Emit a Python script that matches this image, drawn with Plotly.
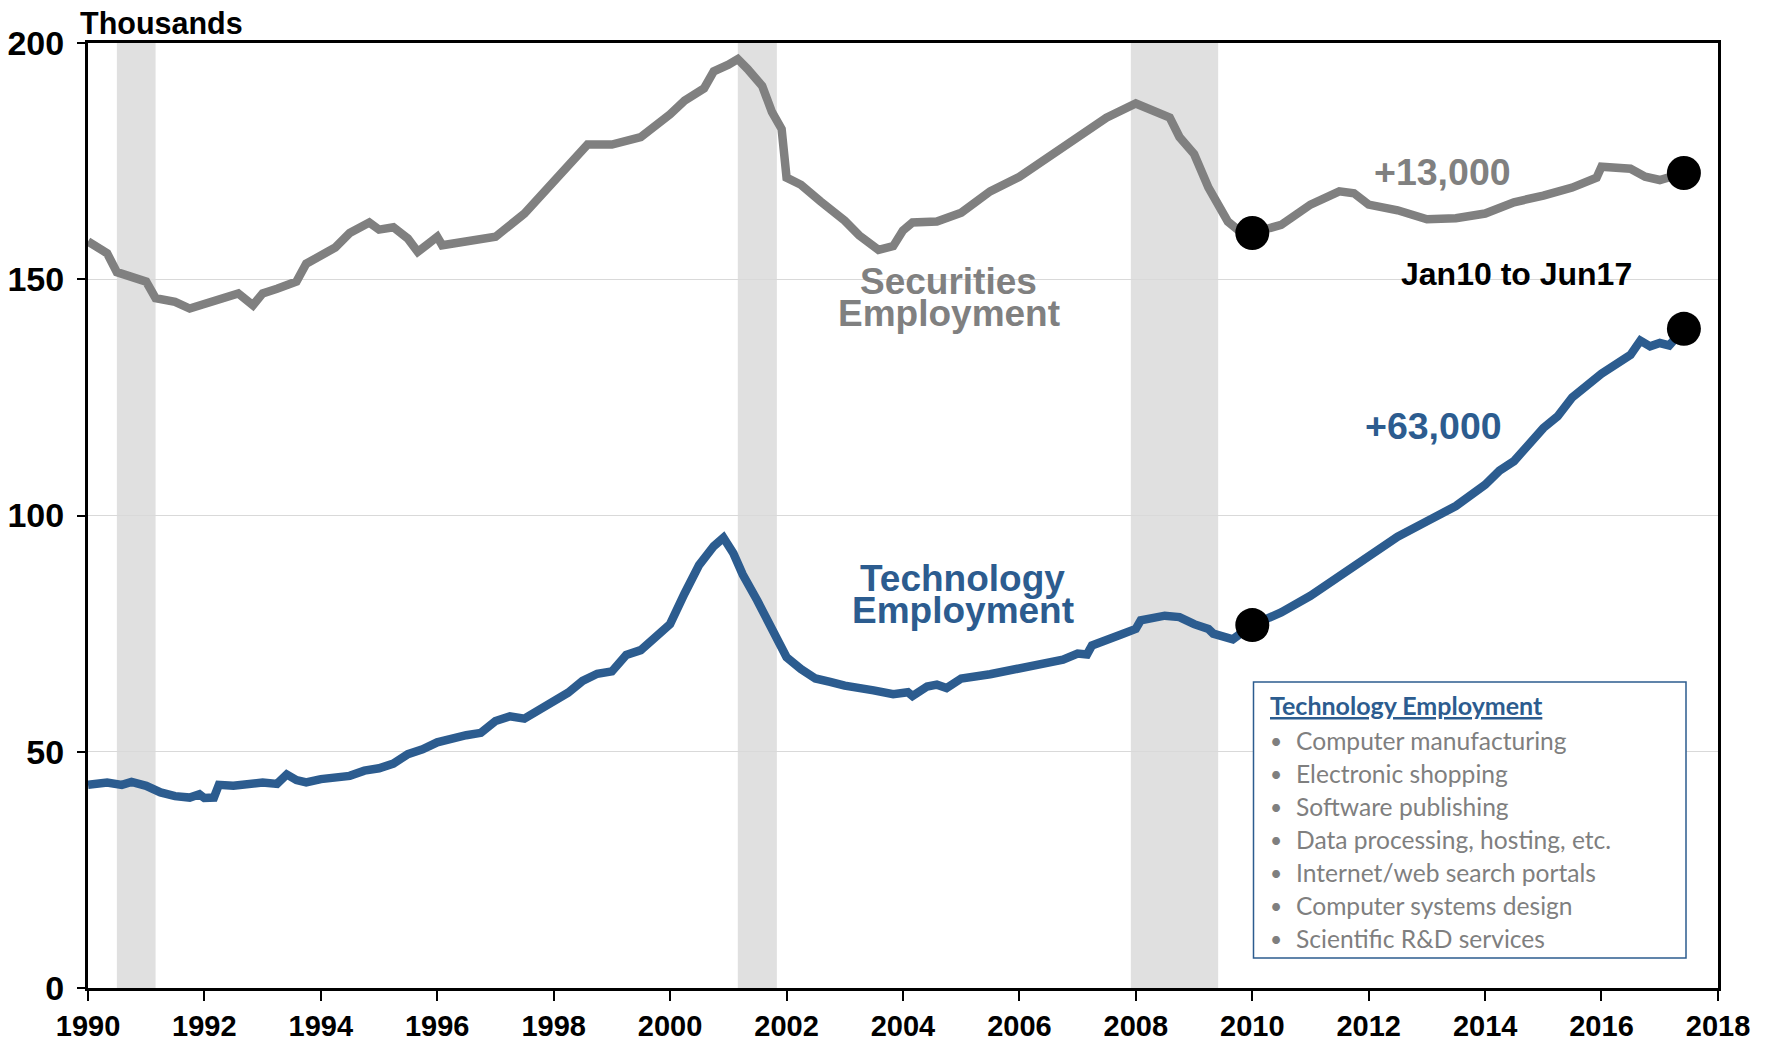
import plotly.graph_objects as go

# ---------------- data (thousands) ----------------
sec_dates = ["1990-01", "1990-03", "1990-05", "1990-07", "1990-10", "1991-01", "1991-03", "1991-07",
             "1991-10", "1992-01", "1992-04", "1992-08", "1992-11", "1993-01", "1993-04", "1993-08",
             "1993-10", "1994-01", "1994-04", "1994-07", "1994-11", "1995-01", "1995-04", "1995-07",
             "1995-09", "1995-11", "1996-01", "1996-02", "1996-07", "1997-01", "1997-07", "1998-01",
             "1998-04", "1998-08", "1999-01", "1999-07", "2000-01", "2000-04", "2000-08", "2000-10",
             "2001-01", "2001-03", "2001-05", "2001-08", "2001-10", "2001-12", "2002-01", "2002-04",
             "2002-08", "2003-01", "2003-04", "2003-08", "2003-11", "2004-01", "2004-03", "2004-08",
             "2005-01", "2005-07", "2006-01", "2006-07", "2007-01", "2007-07", "2008-01", "2008-04",
             "2008-08", "2008-10", "2009-01", "2009-04", "2009-08", "2009-10", "2010-01", "2010-07",
             "2011-01", "2011-07", "2011-10", "2012-01", "2012-07", "2013-01", "2013-07", "2014-01",
             "2014-07", "2015-01", "2015-07", "2015-12", "2016-01", "2016-07", "2016-10", "2017-01",
             "2017-06"]
sec_values = [158.0, 156.7, 155.5, 151.5, 150.5, 149.5, 146.0, 145.2,
              143.8, 144.8, 145.7, 147.0, 144.5, 147.0, 148.0, 149.5,
              153.3, 154.8, 156.7, 159.8, 162.0, 160.5, 161.0, 158.6,
              155.8, 157.4, 159.0, 157.2, 158.1, 159.0, 163.9, 170.6,
              173.7, 178.5, 178.5, 180.1, 184.9, 187.8, 190.4, 194.0,
              195.4, 196.6, 194.5, 190.9, 185.4, 181.8, 171.5, 170.0,
              166.5, 162.4, 159.3, 156.2, 157.0, 160.3, 162.0, 162.2,
              164.1, 168.6, 171.7, 175.8, 179.6, 184.2, 187.2, 185.9,
              184.2, 180.1, 176.5, 169.4, 162.2, 160.5, 159.8, 161.5,
              165.8, 168.6, 168.2, 165.8, 164.6, 162.7, 162.9, 163.9,
              166.3, 167.7, 169.4, 171.5, 173.8, 173.4, 171.7, 171.0,
              172.5]

tech_dates = ["1990-01", "1990-05", "1990-08", "1990-10", "1991-01", "1991-04", "1991-07", "1991-10",
              "1991-12", "1992-01", "1992-03", "1992-04", "1992-07", "1992-10", "1993-01", "1993-04",
              "1993-06", "1993-08", "1993-10", "1994-01", "1994-07", "1994-10", "1995-01", "1995-04",
              "1995-07", "1995-10", "1996-01", "1996-07", "1996-10", "1997-01", "1997-04", "1997-07",
              "1997-10", "1998-01", "1998-04", "1998-07", "1998-10", "1999-01", "1999-04", "1999-07",
              "1999-10", "2000-01", "2000-04", "2000-07", "2000-10", "2000-12", "2001-02", "2001-04",
              "2001-07", "2001-10", "2002-01", "2002-04", "2002-07", "2002-10", "2003-01", "2003-07",
              "2003-11", "2004-02", "2004-03", "2004-06", "2004-08", "2004-10", "2005-01", "2005-07",
              "2006-01", "2006-07", "2006-10", "2007-01", "2007-03", "2007-04", "2007-07", "2007-10",
              "2008-01", "2008-02", "2008-07", "2008-10", "2009-01", "2009-04", "2009-05", "2009-09",
              "2010-01", "2010-07", "2011-01", "2011-07", "2012-01", "2012-07", "2013-01", "2013-07",
              "2014-01", "2014-04", "2014-07", "2015-01", "2015-04", "2015-07", "2016-01", "2016-07",
              "2016-09", "2016-11", "2017-01", "2017-03", "2017-06"]
tech_values = [43.0, 43.5, 43.0, 43.6, 42.8, 41.4, 40.6, 40.3,
               41.0, 40.2, 40.3, 43.0, 42.8, 43.2, 43.5, 43.2,
               45.2, 44.0, 43.5, 44.2, 44.9, 46.0, 46.5, 47.5,
               49.5, 50.5, 52.0, 53.5, 54.0, 56.5, 57.5, 57.0,
               59.0, 60.5, 62.5, 65.0, 66.5, 67.0, 70.5, 71.5,
               74.0, 77.0, 83.5, 89.5, 93.5, 95.3, 92.0, 87.5,
               82.0, 75.5, 70.0, 67.5, 65.5, 64.8, 64.0, 63.0,
               62.2, 62.6, 61.8, 63.8, 64.2, 63.5, 65.5, 66.4,
               67.5, 68.5, 69.5, 70.8, 70.6, 72.5, 73.5, 74.8,
               76.0, 77.8, 78.8, 78.5, 77.0, 76.0, 75.0, 73.8,
               76.8, 79.5, 83.0, 87.0, 91.5, 95.5, 98.8, 102.0,
               106.5, 109.5, 111.5, 118.5, 121.0, 125.0, 130.0, 134.0,
               137.0, 135.8, 136.5, 136.0, 139.5]

dot_dates = ["2010-01", "2017-06"]

recessions = [("1990-07", "1991-03"), ("2001-03", "2001-11"), ("2007-12", "2009-06")]

x_tick_years = list(range(1990, 2019, 2))
y_tick_vals = [0, 50, 100, 150, 200]

legend_title = "Technology Employment"
legend_items = ["Computer manufacturing", "Electronic shopping", "Software publishing",
                "Data processing, hosting, etc.", "Internet/web search portals",
                "Computer systems design", "Scientific R&D services"]

# ---------------- styling ----------------
GRAY = "#808080"
BLUE = "#2C5C8F"
W, H = 1773, 1042
L, R, T, B = 80, 1710, 35, 980   # plot area pixels
ARIAL = "Liberation Sans, Arial, sans-serif"


def px(xp):
    return (xp - L) / (R - L)


def py(yp):
    return (B - yp) / (B - T)


def frac_date(fy):
    y = int(fy)
    m = (fy - y) * 12
    mi = int(m)
    d = int((m - mi) * 28) + 1
    return f"{y}-{mi + 1:02d}-{d:02d}"


fig = go.Figure()

fig.add_trace(go.Scatter(x=sec_dates, y=sec_values, mode="lines",
                         line=dict(color=GRAY, width=8.5), hoverinfo="skip", showlegend=False))
fig.add_trace(go.Scatter(x=tech_dates, y=tech_values, mode="lines",
                         line=dict(color=BLUE, width=8.5), hoverinfo="skip", showlegend=False))

dot_x, dot_y = [], []
for d in dot_dates:
    dot_x.append(d); dot_y.append(sec_values[sec_dates.index(d)])
    dot_x.append(d); dot_y.append(tech_values[tech_dates.index(d)])
fig.add_trace(go.Scatter(x=dot_x, y=dot_y, mode="markers",
                         marker=dict(color="black", size=34), hoverinfo="skip", showlegend=False))

shapes = []
for a, b in recessions:
    shapes.append(dict(type="rect", xref="x", yref="paper", x0=a, x1=b, y0=0, y1=1,
                       fillcolor="#E0E0E0", line=dict(width=0), layer="between"))
# white gaps in gridline behind labels
shapes.append(dict(type="rect", xref="paper", yref="y", x0=px(800), x1=px(1088),
                   y0=146, y1=154, fillcolor="white", line=dict(width=0), layer="between"))
shapes.append(dict(type="rect", xref="paper", yref="y", x0=px(1340), x1=px(1672),
                   y0=146, y1=154, fillcolor="white", line=dict(width=0), layer="between"))
# legend box
shapes.append(dict(type="rect", xref="paper", yref="paper", x0=px(1245.5), x1=px(1678),
                   y0=py(950), y1=py(674), fillcolor="white",
                   line=dict(color=BLUE, width=1.5), layer="above"))

ann = []


def label(text, fy, val, color, size=37):
    ann.append(dict(x=frac_date(fy), y=val, xref="x", yref="y", text=text, showarrow=False,
                    xanchor="center", yanchor="middle",
                    font=dict(family=ARIAL, size=size, color=color, weight="bold")))


label("Securities", 2004.79, 149.5, GRAY)
label("Employment", 2004.79, 142.8, GRAY)
label("Technology", 2005.03, 86.6, BLUE)
label("Employment", 2005.03, 79.9, BLUE)
label("+13,000", 2013.28, 172.6, GRAY, size=37.5)
label("+63,000", 2013.11, 118.9, BLUE, size=37.5)
label("Jan10 to Jun17", 2014.54, 151.2, "black", size=32)

ann.append(dict(x=px(70), y=py(15), xref="paper", yref="paper", text="Thousands",
                showarrow=False, xanchor="left", yanchor="middle",
                font=dict(family=ARIAL, size=30.5, color="black", weight="bold")))

LEG_FONT = "Lato, Open Sans, sans-serif"
ann.append(dict(x=px(1260), y=py(697), xref="paper", yref="paper",
                text="<u>" + legend_title + "</u>", showarrow=False,
                xanchor="left", yanchor="middle",
                font=dict(family=LEG_FONT, size=25, color=BLUE, weight="bold")))
for i, item in enumerate(legend_items):
    yy = 732 + 33.1 * i
    ann.append(dict(x=px(1260), y=py(yy), xref="paper", yref="paper", text="•",
                    showarrow=False, xanchor="left", yanchor="middle",
                    font=dict(family=LEG_FONT, size=21, color="#7F7F7F")))
    ann.append(dict(x=px(1285.5), y=py(yy), xref="paper", yref="paper", text=item,
                    showarrow=False, xanchor="left", yanchor="middle",
                    font=dict(family=LEG_FONT, size=24.6, color="#7F7F7F")))

fig.update_layout(
    width=W, height=H,
    margin=dict(l=L, r=W - R, t=T, b=H - B),
    paper_bgcolor="white", plot_bgcolor="white",
    shapes=shapes, annotations=ann,
    xaxis=dict(type="date", range=["1990-01-01", "2018-01-01"],
               tickvals=[f"{y}-01-01" for y in x_tick_years],
               ticktext=[str(y) for y in x_tick_years],
               showgrid=False, showline=True, linecolor="black", linewidth=3, mirror=True,
               ticks="outside", ticklen=10, tickwidth=2, tickcolor="black",
               tickfont=dict(family=ARIAL, size=29, color="black", weight="bold"),
               zeroline=False, automargin=False),
    yaxis=dict(range=[0, 200], tickvals=y_tick_vals, showgrid=True, gridcolor="#D9D9D9",
               gridwidth=1, showline=True, linecolor="black", linewidth=3, mirror=True,
               ticks="outside", ticklen=8, tickwidth=2, tickcolor="black",
               ticklabelstandoff=6,
               tickfont=dict(family=ARIAL, size=34, color="black", weight="bold"),
               zeroline=False, automargin=False),
)

fig.write_html("out.html")
